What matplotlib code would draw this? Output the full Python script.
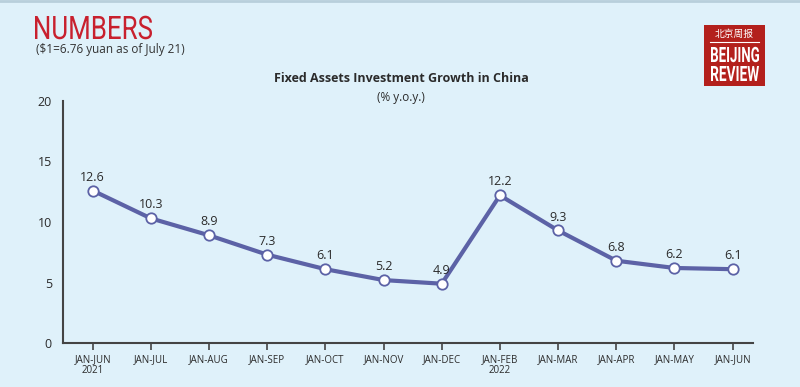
import matplotlib.pyplot as plt
from matplotlib.patches import Rectangle, PathPatch
from matplotlib.textpath import TextPath
from matplotlib.font_manager import FontProperties
from matplotlib.transforms import Affine2D, IdentityTransform

# Data
periods = ['JAN-JUN\n2021', 'JAN-JUL', 'JAN-AUG', 'JAN-SEP', 'JAN-OCT', 'JAN-NOV',
           'JAN-DEC', 'JAN-FEB\n2022', 'JAN-MAR', 'JAN-APR', 'JAN-MAY', 'JAN-JUN']
growth = [12.6, 10.3, 8.9, 7.3, 6.1, 5.2, 4.9, 12.2, 9.3, 6.8, 6.2, 6.1]
y_ticks = [0, 5, 10, 15, 20]

bg = '#dff1fa'
line_color = '#5c62a6'
text_color = '#2b2b2b'
red = '#c8202e'

plt.rcParams['font.family'] = ['Open Sans', 'DejaVu Sans']

fig = plt.figure(figsize=(8, 3.87), dpi=100, facecolor=bg)
W, H = 800, 387


def condensed_text(s, left, top, width, cap, color, weight='normal'):
    # draw text squeezed into a box given in pixels (top-left origin)
    tp = TextPath((0, 0), s, size=100, prop=FontProperties(family='Roboto', weight=weight))
    ext = tp.get_extents()
    sx = width / ext.width
    sy = cap / (100 * 0.711)
    tr = Affine2D().translate(-ext.x0, 0).scale(sx, sy).translate(left, H - top - cap)
    fig.patches.append(PathPatch(tr.transform_path(tp), transform=IdentityTransform(),
                                 facecolor=color, edgecolor='none', zorder=5))


# axes placement in pixels: left 63, right 753, y0 at 343, y20 at 101
ax = fig.add_axes([63 / W, 1 - 343 / H, (753 - 63) / W, (343 - 101) / H])
ax.set_facecolor(bg)

x = list(range(len(periods)))
ax.plot(x, growth, color=line_color, lw=3, zorder=2)
ax.plot(x, growth, ls='none', marker='o', ms=7.5, mfc='white',
        mec=line_color, mew=1.3, zorder=3)
for xi, v in zip(x, growth):
    ax.annotate(f'{v}', (xi, v), xytext=(0, 5), textcoords='offset points',
                ha='center', va='bottom', fontsize=9, color=text_color)

ax.set_xlim(-0.51, 11.35)
ax.set_ylim(0, 20)
ax.set_yticks(y_ticks)
ax.set_xticks(x)
ax.set_xticklabels(periods, fontsize=7, color=text_color, linespacing=1.0)
ax.tick_params(axis='y', length=0, pad=8, labelsize=9, labelcolor=text_color)
ax.tick_params(axis='x', length=5, width=1.2, color='#444444', pad=3)
for s in ['top', 'right']:
    ax.spines[s].set_visible(False)
for s in ['left', 'bottom']:
    ax.spines[s].set_color('#444444')
    ax.spines[s].set_linewidth(1.5)

# header texts
condensed_text('NUMBERS', 35, 16, 117, 23, red)
fig.text(36 / W, 1 - 50 / H, '($1=6.76 yuan as of July 21)', color='#333333',
         fontsize=8.5, ha='left', va='center')
fig.text(401 / W, 1 - 79 / H, 'Fixed Assets Investment Growth in China',
         color=text_color, fontsize=9, fontweight='bold', ha='center', va='center')
fig.text(401 / W, 1 - 98 / H, '(% y.o.y.)', color=text_color, fontsize=8.5,
         ha='center', va='center')

# logo box
fig.patches.append(Rectangle((704 / W, 1 - 86 / H), 61 / W, 61 / H,
                             transform=fig.transFigure, facecolor='#b3201c',
                             edgecolor='none'))
fig.text(734.5 / W, 1 - 34 / H, '北京周报', color='white', fontsize=7,
         ha='center', va='center', family=['Noto Sans CJK SC', 'DejaVu Sans'])
fig.lines.append(plt.Line2D([710 / W, 759 / W], [1 - 42 / H, 1 - 42 / H],
                            transform=fig.transFigure, color='white', lw=0.8))
condensed_text('BEIJING', 711, 47, 48, 15, 'white', weight='bold')
condensed_text('REVIEW', 711, 66, 48, 15, 'white', weight='bold')

# thin top border
fig.lines.append(plt.Line2D([0, 1], [1 - 1 / H, 1 - 1 / H],
                            transform=fig.transFigure, color='#b8cfdb', lw=2))

fig.savefig('out.png', dpi=100, facecolor=bg)
